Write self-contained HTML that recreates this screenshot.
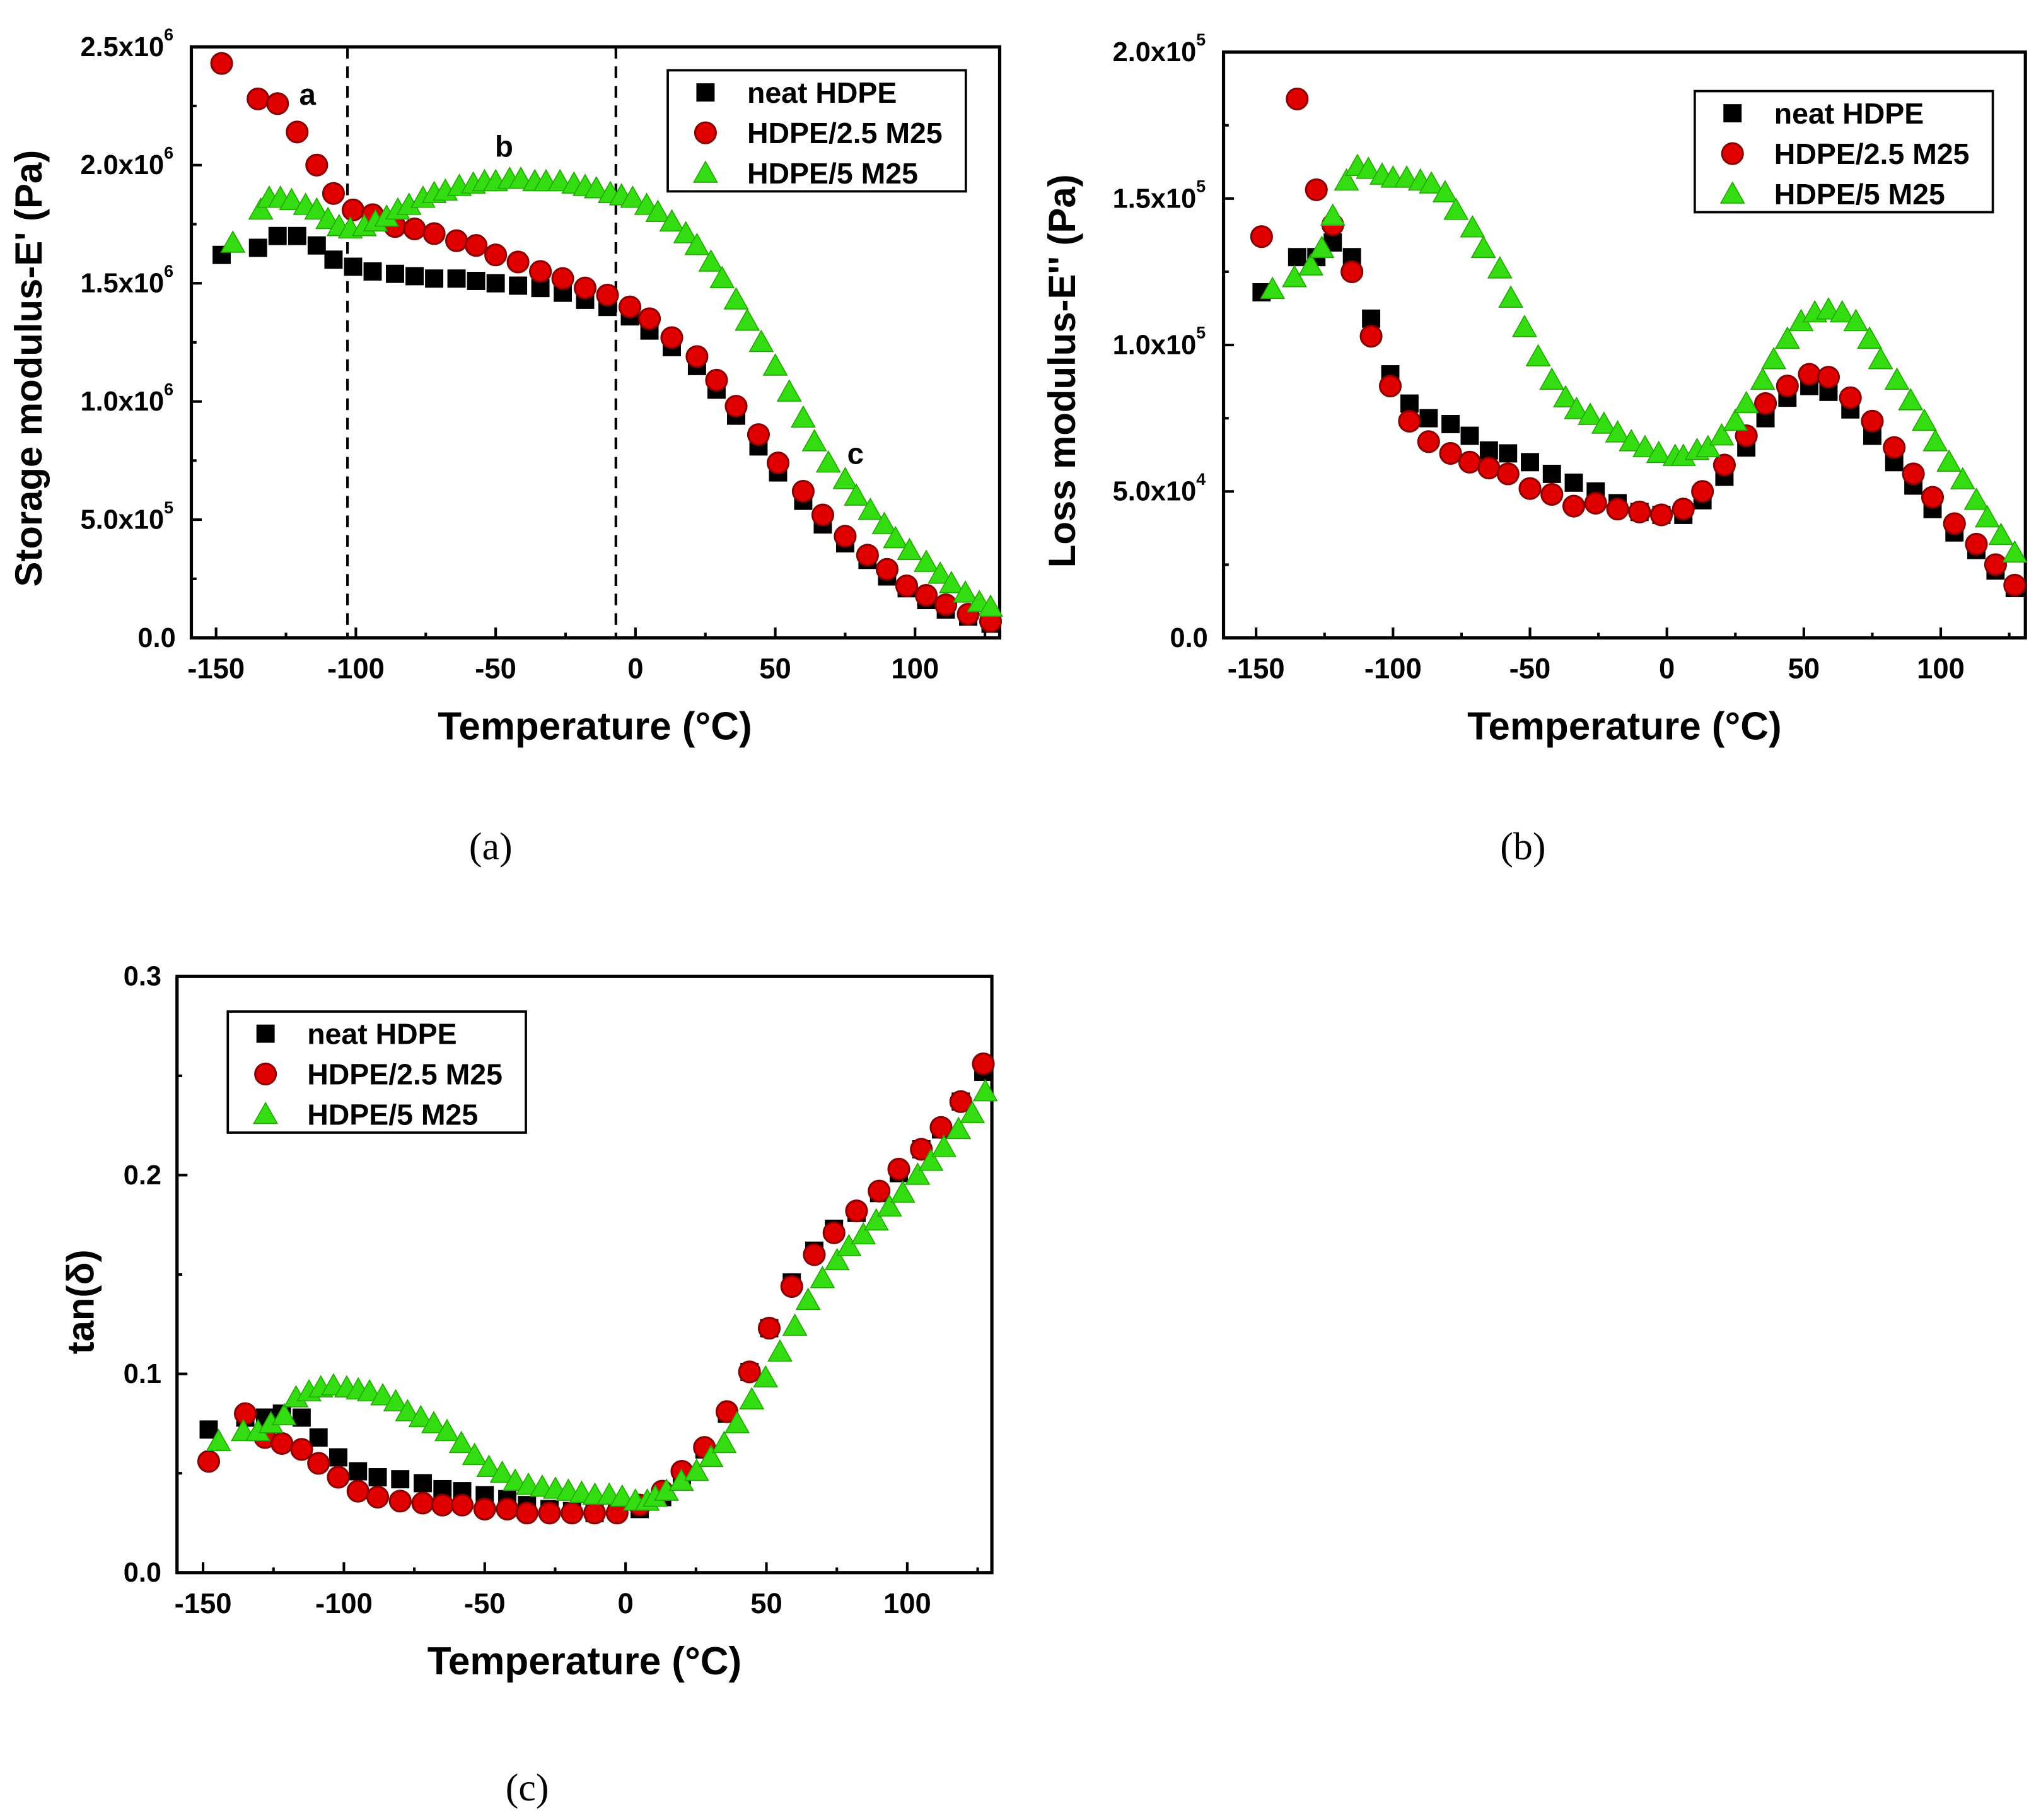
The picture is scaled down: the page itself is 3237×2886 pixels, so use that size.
<!DOCTYPE html>
<html><head><meta charset="utf-8"><style>
html,body{margin:0;padding:0;background:#fff}
svg{display:block}
text{font-family:"Liberation Sans",Arial,sans-serif;font-weight:bold;fill:#000}
.cap{font-family:"Liberation Serif",serif;font-weight:normal}
</style></head><body>
<svg id="fig" width="3237" height="2886" viewBox="0 0 1568 1398" preserveAspectRatio="none" xmlns="http://www.w3.org/2000/svg"></svg>
<script>
// ---- Panel (a) storage modulus, units 1e6 Pa ----
const aTempBR = [-148,-135,-128,-121,-114,-108,-101,-94,-86,-79,-72,-64,-57,-50,-42,-34,-26,-18,-10,-2,5,13,22,29,36,44,51,60,67,75,83,90,97,104,111,119,127];
const aNeat = [1.62,1.65,1.70,1.70,1.66,1.60,1.57,1.55,1.54,1.53,1.52,1.52,1.51,1.50,1.49,1.48,1.46,1.43,1.40,1.36,1.30,1.23,1.15,1.05,0.94,0.81,0.70,0.58,0.48,0.40,0.33,0.26,0.21,0.16,0.12,0.09,0.06];
const aM25_25 = [2.43,2.28,2.26,2.14,2.00,1.88,1.81,1.79,1.74,1.73,1.71,1.68,1.66,1.62,1.59,1.55,1.52,1.48,1.45,1.40,1.35,1.27,1.19,1.09,0.98,0.86,0.74,0.62,0.52,0.43,0.35,0.29,0.22,0.18,0.14,0.10,0.07];
const aTempG = [-144,-134,-131,-127,-123,-118,-114,-110,-106,-102,-97,-93,-89,-85,-81,-76,-72,-68,-63,-58,-54,-50,-45,-41,-36,-32,-27,-22,-18,-14,-9,-5,-1,4,8,13,18,22,27,31,36,40,45,50,55,60,64,69,75,79,84,89,93,98,104,109,113,118,123,127];
const aM25_5 = [1.67,1.81,1.86,1.86,1.85,1.83,1.81,1.77,1.74,1.73,1.74,1.76,1.78,1.81,1.83,1.86,1.88,1.89,1.91,1.92,1.93,1.93,1.94,1.94,1.93,1.93,1.93,1.92,1.91,1.90,1.88,1.87,1.86,1.83,1.80,1.76,1.71,1.66,1.59,1.52,1.43,1.34,1.25,1.15,1.04,0.93,0.83,0.74,0.67,0.60,0.54,0.48,0.42,0.37,0.32,0.27,0.23,0.19,0.15,0.13];
const aYTickVals = [0,0.5,1.0,1.5,2.0,2.5];
const aYTickLabels = [["0.0",""],["5.0x10","5"],["1.0x10","6"],["1.5x10","6"],["2.0x10","6"],["2.5x10","6"]];
const aDashed = [-103,-7];
// ---- Panel (b) loss modulus, units 1e4 Pa ----
const bTempBR = [-148,-135,-128,-122,-115,-108,-101,-94,-87,-79,-72,-65,-58,-50,-42,-34,-26,-18,-10,-2,6,13,21,29,36,44,52,59,67,75,83,90,97,105,113,120,127];
const bNeat = [11.8,13.0,13.0,13.5,13.0,10.9,9.0,8.0,7.5,7.3,6.9,6.4,6.3,6.0,5.6,5.3,5.0,4.6,4.3,4.2,4.2,4.7,5.5,6.5,7.5,8.2,8.6,8.4,7.8,6.9,6.0,5.2,4.4,3.6,3.0,2.3,1.7];
const bM25_25 = [13.7,18.4,15.3,14.1,12.5,10.3,8.6,7.4,6.7,6.3,6.0,5.8,5.6,5.1,4.9,4.5,4.6,4.4,4.3,4.2,4.4,5.0,5.9,6.9,8.0,8.6,9.0,8.9,8.2,7.4,6.5,5.6,4.8,3.9,3.2,2.5,1.8];
const bTempG = [-144,-136,-130,-126,-122,-117,-113,-109,-104,-100,-95,-90,-86,-81,-77,-71,-67,-61,-57,-52,-47,-42,-37,-33,-28,-23,-18,-13,-8,-3,3,6,11,15,20,25,29,35,39,44,49,54,59,64,69,74,78,84,89,94,98,103,108,113,117,122,127];
const bM25_5 = [11.9,12.3,12.7,13.3,14.4,15.6,16.1,16.0,15.8,15.7,15.7,15.6,15.5,15.2,14.6,14.0,13.3,12.6,11.6,10.6,9.6,8.8,8.2,7.8,7.6,7.3,7.0,6.7,6.5,6.3,6.2,6.2,6.4,6.5,6.9,7.4,8.0,8.8,9.5,10.2,10.8,11.1,11.2,11.1,10.8,10.2,9.5,8.8,8.1,7.4,6.7,6.0,5.4,4.7,4.1,3.5,2.9];
const bYTickVals = [0,5,10,15,20];
const bYTickLabels = [["0.0",""],["5.0x10","4"],["1.0x10","5"],["1.5x10","5"],["2.0x10","5"]];
// ---- Panel (c) tan delta ----
const cTempBR = [-148,-135,-128,-122,-115,-109,-102,-95,-88,-80,-72,-65,-58,-50,-42,-35,-27,-19,-11,-3,5,13,20,28,36,44,51,59,67,74,82,90,97,105,112,119,127];
const cNeat = [.072,.078,.078,.080,.078,.068,.058,.051,.048,.047,.045,.042,.041,.039,.037,.034,.032,.031,.030,.031,.032,.038,.049,.062,.080,.101,.123,.146,.162,.173,.181,.191,.201,.213,.223,.237,.252];
const cM25_25 = [.056,.080,.068,.065,.062,.055,.048,.041,.038,.036,.035,.034,.034,.032,.032,.030,.030,.030,.030,.030,.034,.041,.051,.063,.081,.101,.123,.144,.160,.171,.182,.192,.203,.213,.224,.237,.256];
const cTempG = [-144.5,-135.7,-130.5,-125.9,-121.2,-117,-112.4,-108.2,-103.7,-99,-94.9,-90.9,-86.2,-81.6,-77.4,-72.7,-68.1,-63.4,-58.3,-53.6,-48.5,-43.8,-39.2,-34.5,-29.6,-24.9,-20.3,-15.6,-10.9,-5.8,-1.2,3.5,7.7,10.5,14.5,19.8,25.2,30.3,35,39.6,44.8,49.7,54.8,60.1,64.8,69.9,75.1,79.3,84.4,89,93.7,98.4,103.7,108.4,113,118.2,123.1,127.7];
const cM25_5 = [.066,.071,.071,.075,.079,.088,.091,.093,.094,.093,.092,.091,.089,.086,.081,.078,.075,.071,.065,.059,.053,.050,.046,.044,.043,.042,.041,.040,.039,.039,.038,.036,.036,.038,.041,.046,.051,.058,.065,.075,.087,.098,.111,.124,.137,.148,.157,.164,.170,.177,.184,.191,.200,.207,.214,.223,.231,.242];
const cYTickVals = [0,0.1,0.2,0.3];
const cYTickLabels = [["0.0",""],["0.1",""],["0.2",""],["0.3",""]];
const xTickVals = [-150,-100,-50,0,50,100];
const legendLabels = ["neat HDPE","HDPE/2.5 M25","HDPE/5 M25"];
const annotLabels = ["a","b","c"];
const annotTemps = [-124,-54,72];
const annotVals = [2.30,2.08,0.78];

const NS="http://www.w3.org/2000/svg";
const svg=document.getElementById('fig');
function mk(tag,attrs,parent){const e=document.createElementNS(NS,tag);for(const k in attrs)e.setAttribute(k,attrs[k]);(parent||svg).appendChild(e);return e;}

function marker(g,type,x,y){
  let e;
  if(type===0){e=mk('rect',{x:x-7,y:y-7,width:14,height:14,fill:'#000'},g);}
  else if(type===1){e=mk('circle',{cx:x,cy:y,r:8,fill:'#e00000',stroke:'#8a0000','stroke-width':1.5},g);}
  else {e=mk('polygon',{points:`${x},${y-9} ${x+9},${y+7} ${x-9},${y+7}`,fill:'#33dd11',stroke:'#22aa00','stroke-width':0.8},g);}
  
  
  return e;
}

function panel(c){
  const g=mk('g',{});
  
  
  const xs=t=>c.x0+(t-c.tmin)*(c.x1-c.x0)/(c.tmax-c.tmin);
  const ys=v=>c.y0-(v-c.vmin)*(c.y0-c.y1)/(c.vmax-c.vmin);
  const fr=mk('rect',{x:c.L,y:c.T,width:c.R-c.L,height:c.B-c.T,fill:'none',stroke:'#000','stroke-width':2.5},g);
  
  
  for(let i=0;i<xTickVals.length;i++){
    const t=xTickVals[i],x=xs(t);
    mk('line',{x1:x,y1:c.B,x2:x,y2:c.B-8,stroke:'#000','stroke-width':2},g);
    const mx=xs(t+25); if(mx<c.R) mk('line',{x1:mx,y1:c.B,x2:mx,y2:c.B-4,stroke:'#000','stroke-width':2},g);
    const tl=mk('text',{x:x,y:c.B+31,'font-size':22,'text-anchor':'middle'},g);
    tl.textContent=String(t);
    
    
  }
  for(let i=0;i<c.yv.length;i++){
    const v=c.yv[i],y=ys(v);
    mk('line',{x1:c.L,y1:y,x2:c.L+8,y2:y,stroke:'#000','stroke-width':2},g);
    if(i<c.yv.length-1){const my=ys(v+(c.yv[1]-c.yv[0])/2);mk('line',{x1:c.L,y1:my,x2:c.L+4,y2:my,stroke:'#000','stroke-width':2},g);}
    const tl=mk('text',{x:c.L-12-(c.yl[i][1]?9:0),y:y+7,'font-size':21,'text-anchor':'end'},g);
    tl.textContent=c.yl[i][0];
    
    
    if(c.yl[i][1]){const s=mk('text',{x:c.L-12-9,y:y-5,'font-size':13,'text-anchor':'start'},g);s.textContent=c.yl[i][1];
      
      }
  }
  (c.dashed||[]).forEach(t=>{const l=mk('line',{x1:xs(t),y1:c.T,x2:xs(t),y2:c.B,stroke:'#000','stroke-width':2,'stroke-dasharray':'9,6'},g);
    
    });
  const series=[[c.tb,c.s0,0],[c.tb,c.s1,1],[c.tg,c.s2,2]];
  series.forEach(([tt,vv,type])=>{
    const sg=mk('g',{},g);
    
    
    for(let i=0;i<vv.length;i++) marker(sg,type,xs(tt[i]),ys(vv[i]));
  });
  const xt=mk('text',{x:c.xtx,y:c.B+78,'font-size':30,'text-anchor':'middle'},g);
  xt.textContent='Temperature (°C)';
  
  
  const yt=mk('text',{x:0,y:0,'font-size':29,'text-anchor':'middle',transform:`translate(${c.ytx},${c.yty}) rotate(-90)`},g);
  yt.textContent=c.ytitle;
  
  
  const lg=mk('g',{},g);
  
  
  mk('rect',{x:c.lx,y:c.ly,width:229,height:93,fill:'#fff',stroke:'#000','stroke-width':1.8},lg);
  for(let i=0;i<3;i++){
    const yy=c.ly+17+i*31;
    marker(lg,i,c.lx+29,yy);
    const lt=mk('text',{x:c.lx+61,y:yy+8,'font-size':22.5},lg);
    lt.textContent=legendLabels[i];
    
    
  }
  const cp=mk('text',{x:c.capx,y:c.capy,'font-size':30,'text-anchor':'middle',class:'cap'},g);
  cp.textContent=c.cap;
  
  
  return {g,xs,ys};
}

const pa=panel({name:'panel-a-storage-modulus',L:147,R:768,T:36,B:490,x0:166,x1:703,tmin:-150,tmax:100,y0:490,y1:36,vmin:0,vmax:2.5,
  yv:aYTickVals,yl:aYTickLabels,tb:aTempBR,s0:aNeat,s1:aM25_25,tg:aTempG,s2:aM25_5,dashed:aDashed,
  xtx:457,ytx:32,yty:283,ytitle:"Storage modulus-E' (Pa)",lx:513,ly:54,capx:377,capy:660,cap:'(a)'});
for(let i=0;i<annotLabels.length;i++){
  const e=mk('text',{x:pa.xs(annotTemps[i])+8,y:pa.ys(annotVals[i])+8,'font-size':23},pa.g);
  e.textContent=annotLabels[i];
  
  
}
panel({name:'panel-b-loss-modulus',L:940,R:1556,T:40,B:490,x0:965,x1:1491,tmin:-150,tmax:100,y0:490,y1:40,vmin:0,vmax:20,
  yv:bYTickVals,yl:bYTickLabels,tb:bTempBR,s0:bNeat,s1:bM25_25,tg:bTempG,s2:bM25_5,
  xtx:1248,ytx:826,yty:285,ytitle:"Loss modulus-E'' (Pa)",lx:1302,ly:70,capx:1170,capy:660,cap:'(b)'});
panel({name:'panel-c-tan-delta',L:136,R:762,T:750,B:1208,x0:156,x1:697,tmin:-150,tmax:100,y0:1208,y1:750,vmin:0,vmax:0.3,
  yv:cYTickVals,yl:cYTickLabels,tb:cTempBR,s0:cNeat,s1:cM25_25,tg:cTempG,s2:cM25_5,
  xtx:449,ytx:72,yty:1000,ytitle:"tan(δ)",lx:175,ly:777,capx:405,capy:1383,cap:'(c)'});
</script>
</body></html>
